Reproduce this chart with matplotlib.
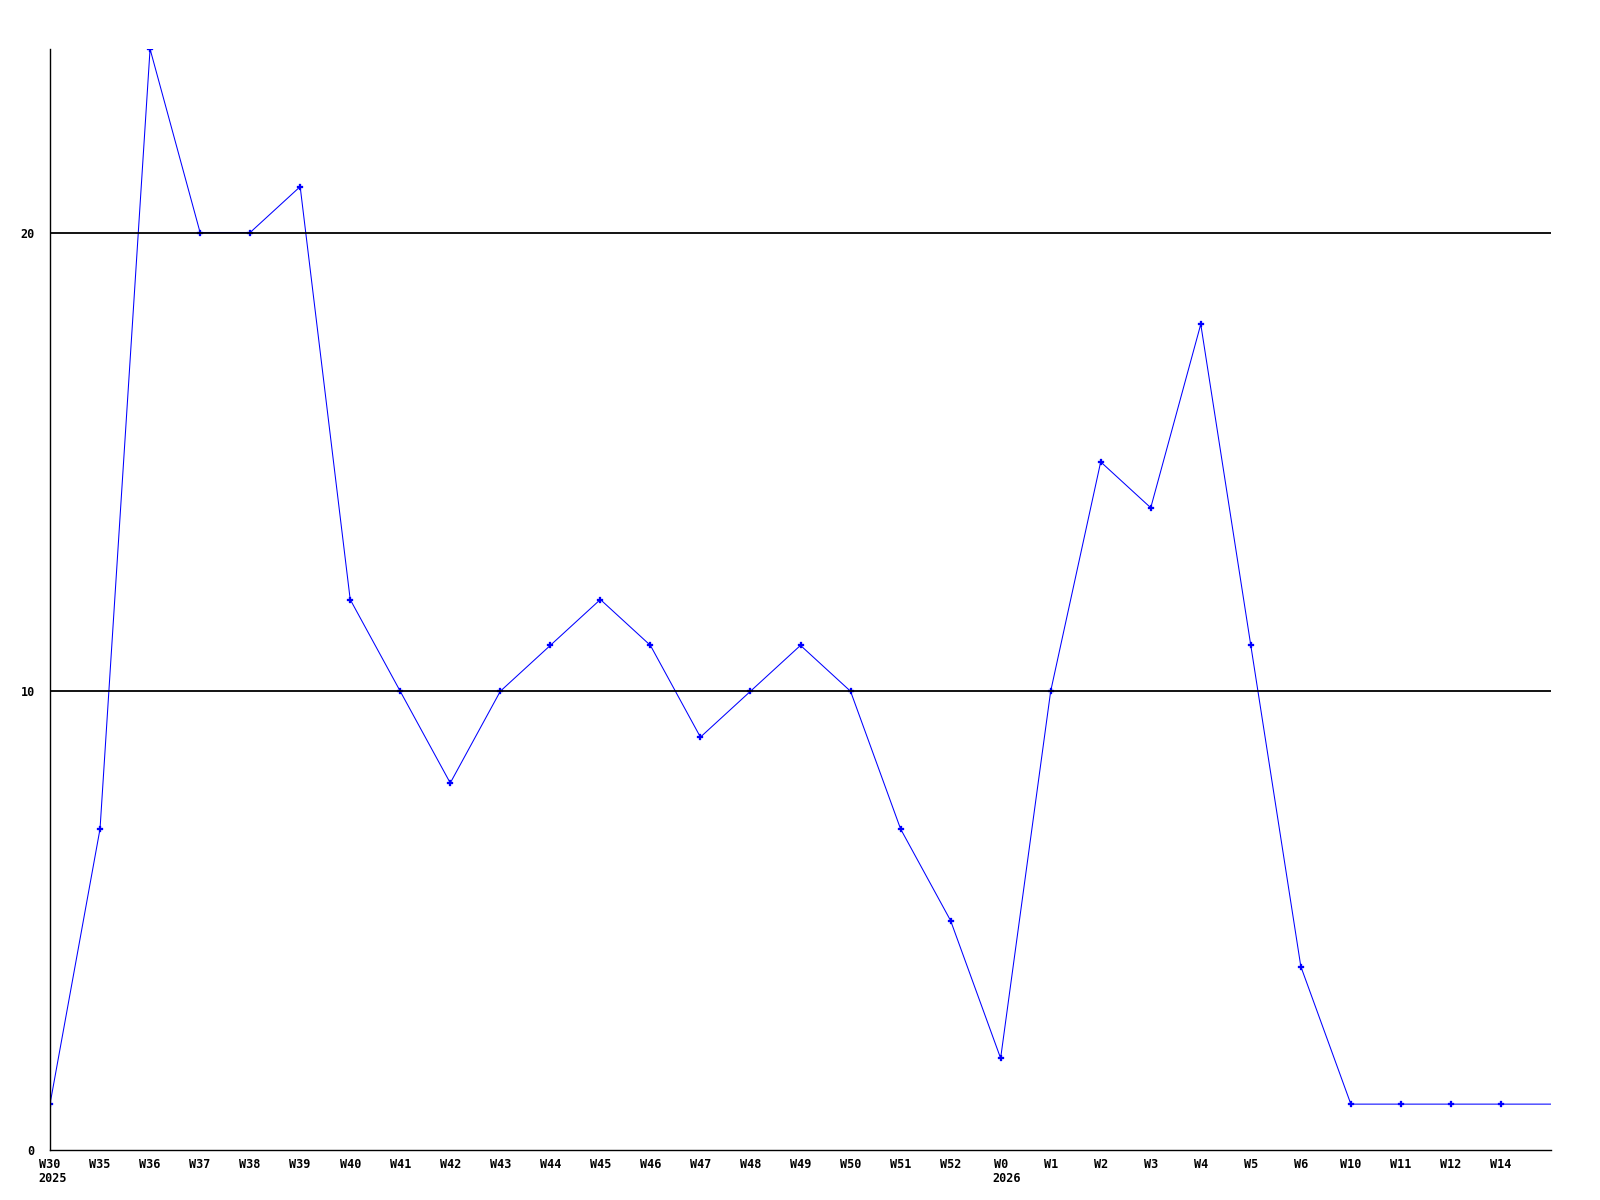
import matplotlib
matplotlib.use("Agg")
import matplotlib.pyplot as plt

weeks = ["W30", "W35", "W36", "W37", "W38", "W39", "W40", "W41", "W42", "W43",
         "W44", "W45", "W46", "W47", "W48", "W49", "W50", "W51", "W52", "W0",
         "W1", "W2", "W3", "W4", "W5", "W6", "W10", "W11", "W12", "W14", ""]
values = [1, 7, 24, 20, 20, 21, 12, 10, 8, 10,
          11, 12, 11, 9, 10, 11, 10, 7, 5, 2,
          10, 15, 14, 18, 11, 4, 1, 1, 1, 1, 1]
year_labels = {"W30": "2025", "W0": "2026"}
y_ticks = [0, 10, 20]

W, H = 1600, 1200
fig = plt.figure(figsize=(16, 12), dpi=100)
ax = fig.add_axes([50 / W, 1 - 1150 / H, (1551 - 50) / W, (1150 - 49) / H])

x = list(range(len(values)))
ax.plot(x, values, color="#0000ff", lw=0.75, zorder=2)
ax.plot(x[:-1], values[:-1], ls="none", marker="P", ms=4, color="#0000ff",
        mec="#0000ff", mew=0.2, zorder=2)

for yv in y_ticks[1:]:
    ax.axhline(yv, color="black", lw=1.3, zorder=3)

ax.set_xlim(0, len(values) - 1)
ax.set_ylim(0, 24)

font = dict(family="DejaVu Sans Mono", weight="bold", size=8.5)
ax.set_yticks(y_ticks)
ax.set_yticklabels([str(v) for v in y_ticks], **font)
ax.set_xticks(x[:-1])
ax.set_xticklabels(weeks[:-1], **font)
ax.tick_params(axis="both", length=0)
ax.tick_params(axis="y", pad=11)
ax.tick_params(axis="x", pad=6)

for i, lab in enumerate(weeks):
    if lab in year_labels:
        cw = 0.6 * 8.5
        ax.annotate(year_labels[lab], xy=(i, 0), xycoords=("data", "axes fraction"),
                    xytext=(-len(lab) * cw / 2 - 1, -15.5), textcoords="offset points",
                    ha="left", va="top", **font)

for s in ["top", "right"]:
    ax.spines[s].set_visible(False)
for s in ["left", "bottom"]:
    ax.spines[s].set_color("black")
    ax.spines[s].set_linewidth(1.0)

fig.savefig("out.png", dpi=100, facecolor="white")
